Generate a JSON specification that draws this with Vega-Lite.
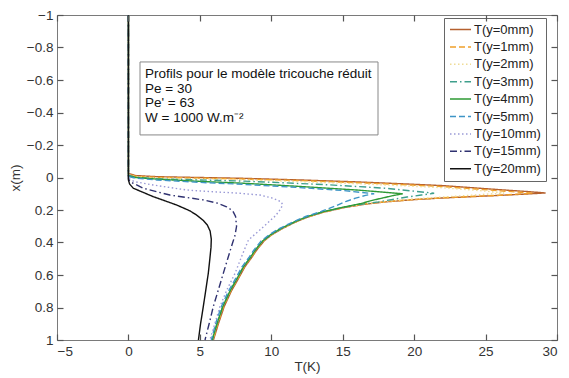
{
  "$schema": "https://vega.github.io/schema/vega-lite/v6.json",
  "autosize": "none",
  "width": 500,
  "height": 325,
  "padding": {"left": 57, "top": 15, "right": 12, "bottom": 38},
  "background": "white",
  "config": {
    "font": "Liberation Sans",
    "view": {"stroke": "#7a7a7a", "strokeWidth": 1},
    "axis": {"grid": false, "domain": false, "labelColor": "#333333", "labelFontSize": 13.5, "titleFontSize": 13.5, "titleFontWeight": "normal", "titleColor": "#333333"}
  },
  "layer": [
    {
      "data": {"values": [
        {"s":"T(y=0mm)","i":0,"T":0,"x":-1},{"s":"T(y=0mm)","i":1,"T":0,"x":-0.025},{"s":"T(y=0mm)","i":2,"T":0.5,"x":-0.012},{"s":"T(y=0mm)","i":3,"T":2,"x":-0.005},{"s":"T(y=0mm)","i":4,"T":5,"x":0.0},{"s":"T(y=0mm)","i":5,"T":8,"x":0.005},{"s":"T(y=0mm)","i":6,"T":12,"x":0.015},{"s":"T(y=0mm)","i":7,"T":16,"x":0.027},{"s":"T(y=0mm)","i":8,"T":19,"x":0.038},{"s":"T(y=0mm)","i":9,"T":22,"x":0.05},{"s":"T(y=0mm)","i":10,"T":26,"x":0.075},{"s":"T(y=0mm)","i":11,"T":28,"x":0.087},{"s":"T(y=0mm)","i":12,"T":29.2,"x":0.095},{"s":"T(y=0mm)","i":13,"T":28,"x":0.101},{"s":"T(y=0mm)","i":14,"T":26,"x":0.11},{"s":"T(y=0mm)","i":15,"T":24,"x":0.118},{"s":"T(y=0mm)","i":16,"T":22,"x":0.126},{"s":"T(y=0mm)","i":17,"T":20,"x":0.136},{"s":"T(y=0mm)","i":18,"T":18,"x":0.15},{"s":"T(y=0mm)","i":19,"T":16.5,"x":0.165},{"s":"T(y=0mm)","i":20,"T":15,"x":0.187},{"s":"T(y=0mm)","i":21,"T":13.6,"x":0.215},{"s":"T(y=0mm)","i":22,"T":12.5,"x":0.245},{"s":"T(y=0mm)","i":23,"T":11.6,"x":0.278},{"s":"T(y=0mm)","i":24,"T":10.7,"x":0.318},{"s":"T(y=0mm)","i":25,"T":10.0,"x":0.355},{"s":"T(y=0mm)","i":26,"T":9.5,"x":0.39},{"s":"T(y=0mm)","i":27,"T":8.95,"x":0.45},{"s":"T(y=0mm)","i":28,"T":8.65,"x":0.49},{"s":"T(y=0mm)","i":29,"T":8.15,"x":0.55},{"s":"T(y=0mm)","i":30,"T":7.65,"x":0.63},{"s":"T(y=0mm)","i":31,"T":7.2,"x":0.7},{"s":"T(y=0mm)","i":32,"T":6.7,"x":0.795},{"s":"T(y=0mm)","i":33,"T":6.3,"x":0.9},{"s":"T(y=0mm)","i":34,"T":5.95,"x":1.0},

        {"s":"T(y=1mm)","i":0,"T":0,"x":-1},{"s":"T(y=1mm)","i":1,"T":0,"x":-0.02},{"s":"T(y=1mm)","i":2,"T":0.5,"x":-0.008},{"s":"T(y=1mm)","i":3,"T":2,"x":-0.001},{"s":"T(y=1mm)","i":4,"T":5,"x":0.004},{"s":"T(y=1mm)","i":5,"T":8,"x":0.009},{"s":"T(y=1mm)","i":6,"T":12,"x":0.019},{"s":"T(y=1mm)","i":7,"T":16,"x":0.032},{"s":"T(y=1mm)","i":8,"T":19,"x":0.043},{"s":"T(y=1mm)","i":9,"T":22,"x":0.056},{"s":"T(y=1mm)","i":10,"T":26,"x":0.082},{"s":"T(y=1mm)","i":11,"T":28.3,"x":0.096},{"s":"T(y=1mm)","i":12,"T":27,"x":0.104},{"s":"T(y=1mm)","i":13,"T":26,"x":0.109},{"s":"T(y=1mm)","i":14,"T":24,"x":0.117},{"s":"T(y=1mm)","i":15,"T":22,"x":0.125},{"s":"T(y=1mm)","i":16,"T":20,"x":0.135},{"s":"T(y=1mm)","i":17,"T":18,"x":0.149},{"s":"T(y=1mm)","i":18,"T":16.5,"x":0.164},{"s":"T(y=1mm)","i":19,"T":15,"x":0.186},{"s":"T(y=1mm)","i":20,"T":13.6,"x":0.214},{"s":"T(y=1mm)","i":21,"T":12.5,"x":0.244},{"s":"T(y=1mm)","i":22,"T":11.6,"x":0.277},{"s":"T(y=1mm)","i":23,"T":10.7,"x":0.317},{"s":"T(y=1mm)","i":24,"T":10.0,"x":0.354},{"s":"T(y=1mm)","i":25,"T":9.45,"x":0.39},{"s":"T(y=1mm)","i":26,"T":8.9,"x":0.45},{"s":"T(y=1mm)","i":27,"T":8.6,"x":0.49},{"s":"T(y=1mm)","i":28,"T":8.1,"x":0.55},{"s":"T(y=1mm)","i":29,"T":7.6,"x":0.63},{"s":"T(y=1mm)","i":30,"T":7.15,"x":0.7},{"s":"T(y=1mm)","i":31,"T":6.65,"x":0.795},{"s":"T(y=1mm)","i":32,"T":6.25,"x":0.9},{"s":"T(y=1mm)","i":33,"T":5.92,"x":1.0},

        {"s":"T(y=2mm)","i":0,"T":0,"x":-1},{"s":"T(y=2mm)","i":1,"T":0,"x":-0.017},{"s":"T(y=2mm)","i":2,"T":0.5,"x":-0.005},{"s":"T(y=2mm)","i":3,"T":2,"x":0.003},{"s":"T(y=2mm)","i":4,"T":5,"x":0.008},{"s":"T(y=2mm)","i":5,"T":8,"x":0.014},{"s":"T(y=2mm)","i":6,"T":12,"x":0.025},{"s":"T(y=2mm)","i":7,"T":16,"x":0.038},{"s":"T(y=2mm)","i":8,"T":19,"x":0.05},{"s":"T(y=2mm)","i":9,"T":22,"x":0.063},{"s":"T(y=2mm)","i":10,"T":24.5,"x":0.08},{"s":"T(y=2mm)","i":11,"T":26.3,"x":0.095},{"s":"T(y=2mm)","i":12,"T":25,"x":0.103},{"s":"T(y=2mm)","i":13,"T":24,"x":0.109},{"s":"T(y=2mm)","i":14,"T":22,"x":0.12},{"s":"T(y=2mm)","i":15,"T":20,"x":0.132},{"s":"T(y=2mm)","i":16,"T":18,"x":0.147},{"s":"T(y=2mm)","i":17,"T":16.5,"x":0.163},{"s":"T(y=2mm)","i":18,"T":15,"x":0.185},{"s":"T(y=2mm)","i":19,"T":13.6,"x":0.213},{"s":"T(y=2mm)","i":20,"T":12.5,"x":0.243},{"s":"T(y=2mm)","i":21,"T":11.6,"x":0.276},{"s":"T(y=2mm)","i":22,"T":10.7,"x":0.316},{"s":"T(y=2mm)","i":23,"T":10.0,"x":0.353},{"s":"T(y=2mm)","i":24,"T":9.4,"x":0.39},{"s":"T(y=2mm)","i":25,"T":8.85,"x":0.45},{"s":"T(y=2mm)","i":26,"T":8.55,"x":0.49},{"s":"T(y=2mm)","i":27,"T":8.05,"x":0.55},{"s":"T(y=2mm)","i":28,"T":7.55,"x":0.63},{"s":"T(y=2mm)","i":29,"T":7.1,"x":0.7},{"s":"T(y=2mm)","i":30,"T":6.6,"x":0.795},{"s":"T(y=2mm)","i":31,"T":6.2,"x":0.9},{"s":"T(y=2mm)","i":32,"T":5.88,"x":1.0},

        {"s":"T(y=3mm)","i":0,"T":0,"x":-1},{"s":"T(y=3mm)","i":1,"T":0,"x":-0.014},{"s":"T(y=3mm)","i":2,"T":0.5,"x":-0.002},{"s":"T(y=3mm)","i":3,"T":2,"x":0.008},{"s":"T(y=3mm)","i":4,"T":5,"x":0.015},{"s":"T(y=3mm)","i":5,"T":8,"x":0.022},{"s":"T(y=3mm)","i":6,"T":11,"x":0.033},{"s":"T(y=3mm)","i":7,"T":14,"x":0.045},{"s":"T(y=3mm)","i":8,"T":18,"x":0.066},{"s":"T(y=3mm)","i":9,"T":21.4,"x":0.097},{"s":"T(y=3mm)","i":10,"T":20.5,"x":0.108},{"s":"T(y=3mm)","i":11,"T":19.5,"x":0.12},{"s":"T(y=3mm)","i":12,"T":18.5,"x":0.135},{"s":"T(y=3mm)","i":13,"T":17.5,"x":0.15},{"s":"T(y=3mm)","i":14,"T":16.4,"x":0.164},{"s":"T(y=3mm)","i":15,"T":15,"x":0.185},{"s":"T(y=3mm)","i":16,"T":13.6,"x":0.212},{"s":"T(y=3mm)","i":17,"T":12.5,"x":0.242},{"s":"T(y=3mm)","i":18,"T":11.6,"x":0.275},{"s":"T(y=3mm)","i":19,"T":10.7,"x":0.315},{"s":"T(y=3mm)","i":20,"T":10.0,"x":0.352},{"s":"T(y=3mm)","i":21,"T":9.4,"x":0.39},{"s":"T(y=3mm)","i":22,"T":8.85,"x":0.45},{"s":"T(y=3mm)","i":23,"T":8.55,"x":0.49},{"s":"T(y=3mm)","i":24,"T":8.05,"x":0.55},{"s":"T(y=3mm)","i":25,"T":7.55,"x":0.63},{"s":"T(y=3mm)","i":26,"T":7.1,"x":0.7},{"s":"T(y=3mm)","i":27,"T":6.6,"x":0.795},{"s":"T(y=3mm)","i":28,"T":6.2,"x":0.9},{"s":"T(y=3mm)","i":29,"T":5.87,"x":1.0},

        {"s":"T(y=4mm)","i":0,"T":0,"x":-1},{"s":"T(y=4mm)","i":1,"T":0,"x":-0.01},{"s":"T(y=4mm)","i":2,"T":0.5,"x":0.0},{"s":"T(y=4mm)","i":3,"T":2,"x":0.01},{"s":"T(y=4mm)","i":4,"T":5,"x":0.024},{"s":"T(y=4mm)","i":5,"T":8,"x":0.035},{"s":"T(y=4mm)","i":6,"T":12,"x":0.055},{"s":"T(y=4mm)","i":7,"T":16,"x":0.077},{"s":"T(y=4mm)","i":8,"T":19.2,"x":0.1},{"s":"T(y=4mm)","i":9,"T":18.6,"x":0.11},{"s":"T(y=4mm)","i":10,"T":17.8,"x":0.126},{"s":"T(y=4mm)","i":11,"T":17,"x":0.142},{"s":"T(y=4mm)","i":12,"T":16.3,"x":0.16},{"s":"T(y=4mm)","i":13,"T":15,"x":0.183},{"s":"T(y=4mm)","i":14,"T":13.6,"x":0.211},{"s":"T(y=4mm)","i":15,"T":12.5,"x":0.241},{"s":"T(y=4mm)","i":16,"T":11.6,"x":0.274},{"s":"T(y=4mm)","i":17,"T":10.6,"x":0.317},{"s":"T(y=4mm)","i":18,"T":9.95,"x":0.352},{"s":"T(y=4mm)","i":19,"T":9.4,"x":0.39},{"s":"T(y=4mm)","i":20,"T":8.85,"x":0.45},{"s":"T(y=4mm)","i":21,"T":8.55,"x":0.49},{"s":"T(y=4mm)","i":22,"T":8.05,"x":0.55},{"s":"T(y=4mm)","i":23,"T":7.55,"x":0.63},{"s":"T(y=4mm)","i":24,"T":7.1,"x":0.7},{"s":"T(y=4mm)","i":25,"T":6.6,"x":0.795},{"s":"T(y=4mm)","i":26,"T":6.2,"x":0.9},{"s":"T(y=4mm)","i":27,"T":5.86,"x":1.0},

        {"s":"T(y=5mm)","i":0,"T":0,"x":-1},{"s":"T(y=5mm)","i":1,"T":0,"x":-0.006},{"s":"T(y=5mm)","i":2,"T":0.5,"x":0.004},{"s":"T(y=5mm)","i":3,"T":2,"x":0.015},{"s":"T(y=5mm)","i":4,"T":5,"x":0.03},{"s":"T(y=5mm)","i":5,"T":8,"x":0.042},{"s":"T(y=5mm)","i":6,"T":12,"x":0.062},{"s":"T(y=5mm)","i":7,"T":15,"x":0.08},{"s":"T(y=5mm)","i":8,"T":17.2,"x":0.1},{"s":"T(y=5mm)","i":9,"T":16.6,"x":0.11},{"s":"T(y=5mm)","i":10,"T":15.9,"x":0.127},{"s":"T(y=5mm)","i":11,"T":15.2,"x":0.148},{"s":"T(y=5mm)","i":12,"T":14.5,"x":0.175},{"s":"T(y=5mm)","i":13,"T":13.5,"x":0.209},{"s":"T(y=5mm)","i":14,"T":12.4,"x":0.24},{"s":"T(y=5mm)","i":15,"T":11.5,"x":0.274},{"s":"T(y=5mm)","i":16,"T":10.5,"x":0.317},{"s":"T(y=5mm)","i":17,"T":9.85,"x":0.352},{"s":"T(y=5mm)","i":18,"T":9.3,"x":0.39},{"s":"T(y=5mm)","i":19,"T":8.75,"x":0.45},{"s":"T(y=5mm)","i":20,"T":8.45,"x":0.49},{"s":"T(y=5mm)","i":21,"T":7.95,"x":0.55},{"s":"T(y=5mm)","i":22,"T":7.45,"x":0.63},{"s":"T(y=5mm)","i":23,"T":7.0,"x":0.7},{"s":"T(y=5mm)","i":24,"T":6.5,"x":0.795},{"s":"T(y=5mm)","i":25,"T":6.1,"x":0.9},{"s":"T(y=5mm)","i":26,"T":5.8,"x":1.0},

        {"s":"T(y=10mm)","i":0,"T":0,"x":-1},{"s":"T(y=10mm)","i":1,"T":0,"x":0.005},{"s":"T(y=10mm)","i":2,"T":0.4,"x":0.025},{"s":"T(y=10mm)","i":3,"T":1.72,"x":0.046},{"s":"T(y=10mm)","i":4,"T":4.08,"x":0.077},{"s":"T(y=10mm)","i":5,"T":6,"x":0.088},{"s":"T(y=10mm)","i":6,"T":7.8,"x":0.097},{"s":"T(y=10mm)","i":7,"T":9.2,"x":0.108},{"s":"T(y=10mm)","i":8,"T":10.1,"x":0.127},{"s":"T(y=10mm)","i":9,"T":10.7,"x":0.15},{"s":"T(y=10mm)","i":10,"T":10.8,"x":0.169},{"s":"T(y=10mm)","i":11,"T":10.6,"x":0.2},{"s":"T(y=10mm)","i":12,"T":10.3,"x":0.235},{"s":"T(y=10mm)","i":13,"T":9.2,"x":0.323},{"s":"T(y=10mm)","i":14,"T":8.4,"x":0.385},{"s":"T(y=10mm)","i":15,"T":7.95,"x":0.48},{"s":"T(y=10mm)","i":16,"T":7.46,"x":0.59},{"s":"T(y=10mm)","i":17,"T":6.9,"x":0.69},{"s":"T(y=10mm)","i":18,"T":6.4,"x":0.795},{"s":"T(y=10mm)","i":19,"T":6.05,"x":0.9},{"s":"T(y=10mm)","i":20,"T":5.7,"x":1.0},

        {"s":"T(y=15mm)","i":0,"T":0,"x":-1},{"s":"T(y=15mm)","i":1,"T":0,"x":0.01},{"s":"T(y=15mm)","i":2,"T":0.11,"x":0.026},{"s":"T(y=15mm)","i":3,"T":1.04,"x":0.066},{"s":"T(y=15mm)","i":4,"T":2.9,"x":0.108},{"s":"T(y=15mm)","i":5,"T":5.24,"x":0.138},{"s":"T(y=15mm)","i":6,"T":6.2,"x":0.157},{"s":"T(y=15mm)","i":7,"T":6.87,"x":0.18},{"s":"T(y=15mm)","i":8,"T":7.3,"x":0.205},{"s":"T(y=15mm)","i":9,"T":7.5,"x":0.24},{"s":"T(y=15mm)","i":10,"T":7.57,"x":0.3},{"s":"T(y=15mm)","i":11,"T":7.45,"x":0.36},{"s":"T(y=15mm)","i":12,"T":7.3,"x":0.4},{"s":"T(y=15mm)","i":13,"T":6.95,"x":0.5},{"s":"T(y=15mm)","i":14,"T":6.64,"x":0.59},{"s":"T(y=15mm)","i":15,"T":6.3,"x":0.69},{"s":"T(y=15mm)","i":16,"T":5.94,"x":0.795},{"s":"T(y=15mm)","i":17,"T":5.65,"x":0.9},{"s":"T(y=15mm)","i":18,"T":5.36,"x":1.0},

        {"s":"T(y=20mm)","i":0,"T":0,"x":-1},{"s":"T(y=20mm)","i":1,"T":0,"x":0.015},{"s":"T(y=20mm)","i":2,"T":0.08,"x":0.04},{"s":"T(y=20mm)","i":3,"T":0.34,"x":0.066},{"s":"T(y=20mm)","i":4,"T":1.74,"x":0.118},{"s":"T(y=20mm)","i":5,"T":3.37,"x":0.169},{"s":"T(y=20mm)","i":6,"T":4.3,"x":0.205},{"s":"T(y=20mm)","i":7,"T":4.77,"x":0.231},{"s":"T(y=20mm)","i":8,"T":5.25,"x":0.265},{"s":"T(y=20mm)","i":9,"T":5.52,"x":0.292},{"s":"T(y=20mm)","i":10,"T":5.72,"x":0.33},{"s":"T(y=20mm)","i":11,"T":5.8,"x":0.38},{"s":"T(y=20mm)","i":12,"T":5.78,"x":0.43},{"s":"T(y=20mm)","i":13,"T":5.7,"x":0.5},{"s":"T(y=20mm)","i":14,"T":5.59,"x":0.59},{"s":"T(y=20mm)","i":15,"T":5.42,"x":0.69},{"s":"T(y=20mm)","i":16,"T":5.24,"x":0.795},{"s":"T(y=20mm)","i":17,"T":5.05,"x":0.9},{"s":"T(y=20mm)","i":18,"T":4.9,"x":1.0}
      ]},
      "mark": {"type": "line", "strokeWidth": 1.4},
      "encoding": {
        "x": {"field": "T", "type": "quantitative", "scale": {"domain": [-5, 30], "nice": false, "zero": false},
              "axis": {"orient": "bottom", "values": [-5,0,5,10,15,20,25,30], "format": "~g", "ticks": true, "tickColor": "#555555", "tickWidth": 1.2, "tickOpacity": 1, "zindex": 2, "tickSize": -6, "labelPadding": 10, "title": "T(K)", "titlePadding": 2}},
        "y": {"field": "x", "type": "quantitative", "scale": {"domain": [-1, 1], "reverse": true, "nice": false, "zero": false},
              "axis": {"orient": "left", "values": [-1,-0.8,-0.6,-0.4,-0.2,0,0.2,0.4,0.6,0.8,1], "format": "~g", "ticks": true, "tickColor": "#555555", "tickWidth": 1.2, "tickOpacity": 1, "zindex": 2, "tickSize": -6, "labelPadding": 10, "title": "x(m)", "titlePadding": 4}},
        "order": {"field": "i", "type": "quantitative"},
        "color": {"field": "s", "type": "nominal",
          "scale": {"domain": ["T(y=0mm)","T(y=1mm)","T(y=2mm)","T(y=3mm)","T(y=4mm)","T(y=5mm)","T(y=10mm)","T(y=15mm)","T(y=20mm)"],
                    "range": ["#b5602e","#f0a02a","#efdc96","#3f9f8c","#2e9a35","#3e95c6","#9a9ad6","#2f3170","#111111"]},
          "legend": {"title": null, "orient": "none", "legendX": 387, "legendY": 3, "fillColor": "white", "strokeColor": "#666666", "padding": 5,
                     "symbolType": "stroke", "symbolSize": 441, "symbolStrokeWidth": 1.5, "labelFontSize": 13, "labelColor": "#222222", "labelOffset": 2, "clipHeight": 13, "rowPadding": 3.4, "labelLimit": 200}},
        "strokeDash": {"field": "s", "type": "nominal",
          "scale": {"domain": ["T(y=0mm)","T(y=1mm)","T(y=2mm)","T(y=3mm)","T(y=4mm)","T(y=5mm)","T(y=10mm)","T(y=15mm)","T(y=20mm)"],
                    "range": [[1,0],[6,3],[1.5,2.5],[7,3,1.5,3],[1,0],[6,3],[1.5,2.5],[7,3,1.5,3],[1,0]]},
          "legend": {"title": null, "orient": "none", "legendX": 387, "legendY": 3, "fillColor": "white", "strokeColor": "#666666", "padding": 5,
                     "symbolType": "stroke", "symbolSize": 441, "symbolStrokeWidth": 1.5, "labelFontSize": 13, "labelColor": "#222222", "labelOffset": 2, "clipHeight": 13, "rowPadding": 3.4, "labelLimit": 200}}
      }
    },
    {
      "data": {"values": [{}]},
      "mark": {"type": "rect", "fill": "white", "stroke": "#888888", "strokeWidth": 1},
      "encoding": {
        "x": {"datum": 0.81, "type": "quantitative", "axis": null},
        "x2": {"datum": 17.47},
        "y": {"datum": -0.711, "type": "quantitative", "axis": null},
        "y2": {"datum": -0.262}
      }
    },
    {
      "data": {"values": [{}]},
      "mark": {"type": "text", "align": "left", "baseline": "top", "fontSize": 13.5, "lineHeight": 14.5, "color": "#111111",
               "text": ["Profils pour le modèle tricouche réduit", "Pe = 30", "Pe' = 63", "W = 1000 W.m⁻²"]},
      "encoding": {
        "x": {"datum": 1.16, "type": "quantitative", "axis": null},
        "y": {"datum": -0.68, "type": "quantitative", "axis": null}
      }
    },
    {
      "data": {"values": [{"T": 0, "x": 0}]},
      "mark": {"type": "point", "opacity": 0},
      "encoding": {
        "x": {"field": "T", "type": "quantitative", "axis": {"orient": "top", "values": [-5,0,5,10,15,20,25,30], "labels": false, "title": null, "ticks": true, "tickColor": "#555555", "tickWidth": 1.2, "tickOpacity": 1, "zindex": 2, "tickSize": -6}},
        "y": {"field": "x", "type": "quantitative", "axis": {"orient": "right", "values": [-1,-0.8,-0.6,-0.4,-0.2,0,0.2,0.4,0.6,0.8,1], "labels": false, "title": null, "ticks": true, "tickColor": "#555555", "tickWidth": 1.2, "tickOpacity": 1, "zindex": 2, "tickSize": -6}}
      }
    }
  ],
  "resolve": {"axis": {"x": "independent", "y": "independent"}}
}
